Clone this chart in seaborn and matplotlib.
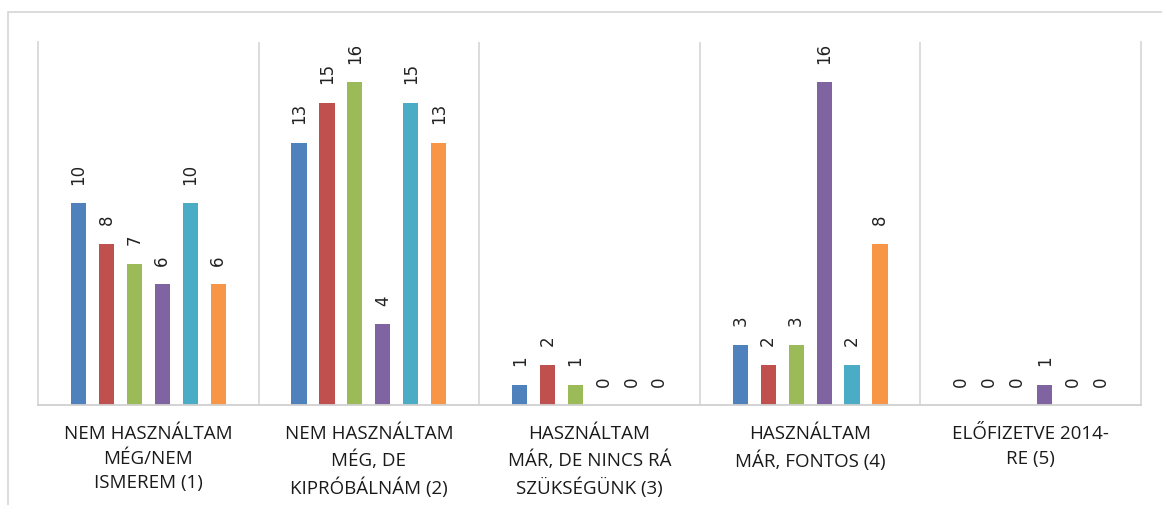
import pandas as pd
import numpy as np
import matplotlib.pyplot as plt
import matplotlib.patches as mpatches
import seaborn as sns

categories = [
    "NEM HASZNÁLTAM\nMÉG/NEM\nISMEREM (1)",
    "NEM HASZNÁLTAM\nMÉG, DE\nKIPRÓBÁLNÁM (2)",
    "HASZNÁLTAM\nMÁR, DE NINCS RÁ\nSZÜKSÉGÜNK (3)",
    "HASZNÁLTAM\nMÁR, FONTOS (4)",
    "ELŐFIZETVE 2014-\nRE (5)",
]
series_names = ["1", "2", "3", "4", "5", "6"]
s1 = [10, 13, 1, 3, 0]
s2 = [8, 15, 2, 2, 0]
s3 = [7, 16, 1, 3, 0]
s4 = [6, 4, 0, 16, 1]
s5 = [10, 15, 0, 2, 0]
s6 = [6, 13, 0, 8, 0]
colors = ["#4F81BD", "#C0504D", "#9BBB59", "#8064A2", "#4BACC6", "#F79646"]

rows = []
for name, vals in zip(series_names, [s1, s2, s3, s4, s5, s6]):
    for cat, v in zip(categories, vals):
        rows.append({"category": cat, "series": name, "value": v})
df = pd.DataFrame(rows)

sns.set_theme(style="white")
plt.rcParams['font.family'] = ['DejaVu Sans']

fig = plt.figure(figsize=(11.62, 5.06), dpi=100)
ax = fig.add_axes([38 / 1162, 1 - 406 / 506, (1141 - 38) / 1162, (406 - 43) / 506])

sns.barplot(data=df, x="category", y="value", hue="series", order=categories,
            hue_order=series_names, palette=colors, width=0.76, gap=0.46,
            saturation=1, legend=False, ax=ax, edgecolor="none")

for cont in ax.containers:
    ax.bar_label(cont, rotation=90, padding=14, fontsize=12, color="#222222")

ax.set_ylim(0, 18)
ax.set_xlim(-0.5, len(categories) - 0.5)
ax.set_yticks([])
ax.set_xlabel("")
ax.set_ylabel("")
for x in np.arange(0.5, len(categories) - 0.5, 1):
    ax.axvline(x, color="#D9D9D9", lw=1.3, zorder=0)

for side in ["left", "right"]:
    ax.spines[side].set_color("#D9D9D9")
    ax.spines[side].set_linewidth(1.3)
ax.spines["top"].set_visible(False)
ax.spines["bottom"].set_color("#D0D0D0")
ax.spines["bottom"].set_linewidth(1.3)

ax.tick_params(axis="x", length=0, pad=14)
ax.set_xticks(range(len(categories)))
ax.set_xticklabels(categories, fontsize=13.5, color="#1a1a1a", linespacing=1.45,
                   family=["Open Sans", "DejaVu Sans"])

border = mpatches.Rectangle((8 / 1162, -0.1), 1.2, 1 - 13 / 506 + 0.1,
                            transform=fig.transFigure, fill=False,
                            edgecolor="#D9D9D9", lw=1.3)
fig.patches.append(border)

fig.savefig("out.png", dpi=100)
